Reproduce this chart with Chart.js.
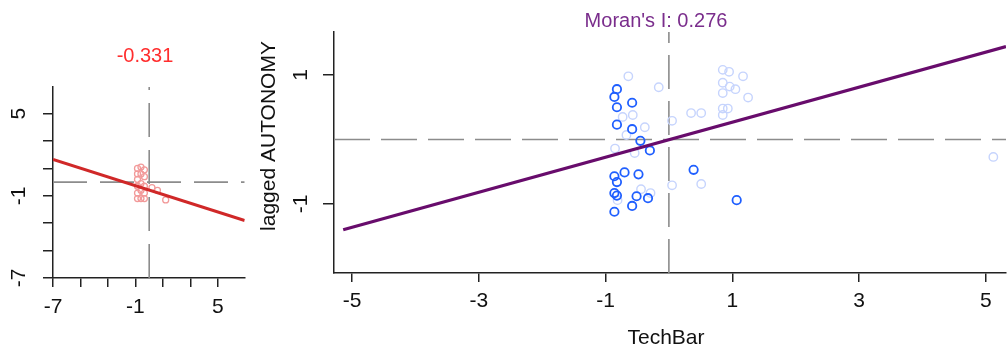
<!DOCTYPE html>
<html><head><meta charset="utf-8">
<script src="https://cdn.jsdelivr.net/npm/chart.js@4.4.0/dist/chart.umd.min.js"></script>
<style>
html,body{margin:0;padding:0;background:#fff;width:1007px;height:349px;overflow:hidden;position:relative}
#w1{position:absolute;left:0;top:0;width:250px;height:349px}
#w2{position:absolute;left:250px;top:0;width:762px;height:349px}
</style></head><body>
<div id="w1"><canvas id="c1"></canvas></div>
<div id="w2"><canvas id="c2"></canvas></div>
<script>
// ---- Left panel data ----
const leftX = [-0.85,-0.85,-0.85,-0.85,-0.85,-0.85,-0.6,-0.6,-0.6,-0.6,-0.6,-0.35,-0.35,-0.35,-0.35,-0.35,0.2,0.6,1.2];
const leftY = [1.0,0.6,0.2,-0.3,-0.8,-1.2,1.1,0.6,-0.1,-0.6,-1.2,0.9,0.4,-0.3,-0.8,-1.2,-0.4,-0.6,-1.3];
const leftFitX = [-7, 6.95];
const leftFitY = [1.66, -2.80];
const leftTickValues = [-7,-5,-3,-1,1,3,5];
const leftTickLabels = [-7,-1,5];
const leftTitle = '-0.331';

// ---- Right panel data ----
const strongX = [-0.82,-0.86,-0.82,-0.58,-0.82,-0.58,-0.45,-0.30,0.39,-0.70,-0.48,-0.86,-0.82,-0.86,-0.82,-0.51,-0.33,-0.58,-0.86,1.07];
const strongY = [0.78,0.66,0.50,0.57,0.23,0.16,-0.02,-0.17,-0.47,-0.51,-0.54,-0.57,-0.66,-0.83,-0.87,-0.88,-0.91,-1.03,-1.12,-0.94];
const weakX = [-0.64,-0.16,0.85,0.95,1.17,0.85,0.96,1.05,0.85,1.25,0.35,0.51,0.85,0.93,0.85,0.05,-0.57,-0.73,-0.38,-0.67,-0.85,-0.54,0.05,0.51,-0.44,-0.29,5.12,-0.81];
const weakY = [0.98,0.81,1.08,1.05,0.98,0.88,0.82,0.78,0.72,0.65,0.41,0.41,0.48,0.48,0.38,0.29,0.38,0.35,0.19,0.07,-0.14,-0.21,-0.71,-0.69,-0.77,-0.83,-0.27,-0.94];
const fitX = [-5.14, 5.32];
const fitY = [-1.40, 1.44];
const rightXTicks = [-5,-3,-1,1,3,5];
const rightYTicks = [-1,1];
const rightTitle = "Moran's I: 0.276";
const xLabel = 'TechBar';
const yLabel = 'lagged AUTONOMY';

const FONT = "'Liberation Sans', Arial, sans-serif";
const pts = (xs, ys) => xs.map((x, i) => ({x, y: ys[i]}));

function textPlugin(items) {
  return {
    id: 'texts',
    afterDraw(chart) {
      const ctx = chart.ctx;
      items.forEach(it => {
        ctx.save();
        ctx.font = it.font;
        ctx.fillStyle = it.color;
        ctx.textAlign = 'center';
        ctx.textBaseline = 'alphabetic';
        ctx.translate(it.x, it.y);
        if (it.rot) ctx.rotate(it.rot);
        ctx.fillText(it.text, 0, 0);
        ctx.restore();
      });
    }
  };
}

function axis(opts) {
  return {
    type: 'linear',
    position: opts.position,
    min: opts.min, max: opts.max,
    afterBuildTicks: s => { s.ticks = opts.values.map(v => ({value: v})); },
    afterFit: s => {
      if (opts.position === 'left') s.width = opts.size; else s.height = opts.size;
      s.paddingLeft = 0; s.paddingRight = 0; s.paddingTop = 0; s.paddingBottom = 0;
    },
    grid: {drawOnChartArea: false, drawTicks: true, tickLength: opts.tickLength, color: '#222', lineWidth: 1.5},
    border: {display: true, color: '#222', width: 1.5},
    ticks: {
      autoSkip: false,
      minRotation: opts.rot, maxRotation: opts.rot,
      crossAlign: opts.position === 'left' ? 'center' : 'near',
      padding: opts.padding,
      color: '#111',
      font: {family: FONT, size: 21},
      callback: v => opts.labels.includes(v) ? String(v) : ''
    }
  };
}

const common = {
  responsive: true, maintainAspectRatio: false, animation: false,
  plugins: {legend: {display: false}, tooltip: {enabled: false}, title: {display: false}}
};

// Left chart
new Chart(document.getElementById('c1'), {
  type: 'scatter',
  data: {datasets: [
    {data: pts(leftFitX, leftFitY), showLine: true, borderColor: '#d02828', borderWidth: 3.2, pointRadius: 0},
    {data: pts(leftX, leftY), showLine: false, pointRadius: 3, pointBorderWidth: 1.3, pointBorderColor: '#f29a9a', pointBackgroundColor: 'rgba(0,0,0,0)'},
    {data: [{x: -7, y: 0}, {x: 6.95, y: 0}], showLine: true, borderColor: '#8c8c8c', borderWidth: 1.6, borderDash: [34, 13], pointRadius: 0},
    {data: [{x: 0, y: -7}, {x: 0, y: 6.95}], showLine: true, borderColor: '#8c8c8c', borderWidth: 1.6, borderDash: [34, 13], pointRadius: 0}
  ]},
  options: Object.assign({}, common, {
    layout: {padding: {top: 87, right: 5, left: 0, bottom: 0}},
    scales: {
      x: axis({position: 'bottom', min: -7, max: 6.95, values: leftTickValues, labels: leftTickLabels, size: 71, tickLength: 9, padding: 8, rot: 0}),
      y: axis({position: 'left', min: -7, max: 6.95, values: leftTickValues, labels: leftTickLabels, size: 53, tickLength: 10, padding: 14, rot: 90})
    }
  }),
  plugins: [textPlugin([
    {text: leftTitle, x: 145, y: 62, color: '#ff2e2e', font: '20px ' + FONT}
  ])]
});

// Right chart
new Chart(document.getElementById('c2'), {
  type: 'scatter',
  data: {datasets: [
    {data: pts(fitX, fitY), showLine: true, borderColor: '#680c6c', borderWidth: 3.2, pointRadius: 0},
    {data: pts(strongX, strongY), showLine: false, pointRadius: 4.2, pointBorderWidth: 1.8, pointBorderColor: '#1f5fff', pointBackgroundColor: 'rgba(0,0,0,0)'},
    {data: pts(weakX, weakY), showLine: false, pointRadius: 4.2, pointBorderWidth: 1.4, pointBorderColor: '#c6d4fd', pointBackgroundColor: 'rgba(0,0,0,0)'},
    {data: [{x: -5.285, y: 0}, {x: 5.32, y: 0}], showLine: true, borderColor: '#8c8c8c', borderWidth: 1.6, borderDash: [36, 11], pointRadius: 0},
    {data: [{x: 0, y: -2.07}, {x: 0, y: 1.667}], showLine: true, borderColor: '#8c8c8c', borderWidth: 1.6, borderDash: [34, 12], pointRadius: 0}
  ]},
  options: Object.assign({}, common, {
    layout: {padding: {top: 32, right: 0, left: 0, bottom: 0}},
    scales: {
      x: axis({position: 'bottom', min: -5.285, max: 5.32, values: rightXTicks, labels: rightXTicks, size: 76, tickLength: 9, padding: 7, rot: 0}),
      y: axis({position: 'left', min: -2.07, max: 1.667, values: rightYTicks, labels: rightYTicks, size: 84, tickLength: 11, padding: 12, rot: 90})
    }
  }),
  plugins: [textPlugin([
    {text: rightTitle, x: 406, y: 27, color: '#7a2d8c', font: '20px ' + FONT},
    {text: xLabel, x: 416, y: 344, color: '#111', font: '21px ' + FONT},
    {text: yLabel, x: 25, y: 136, color: '#111', font: '21px ' + FONT, rot: -Math.PI / 2}
  ])]
});
</script>
</body></html>
